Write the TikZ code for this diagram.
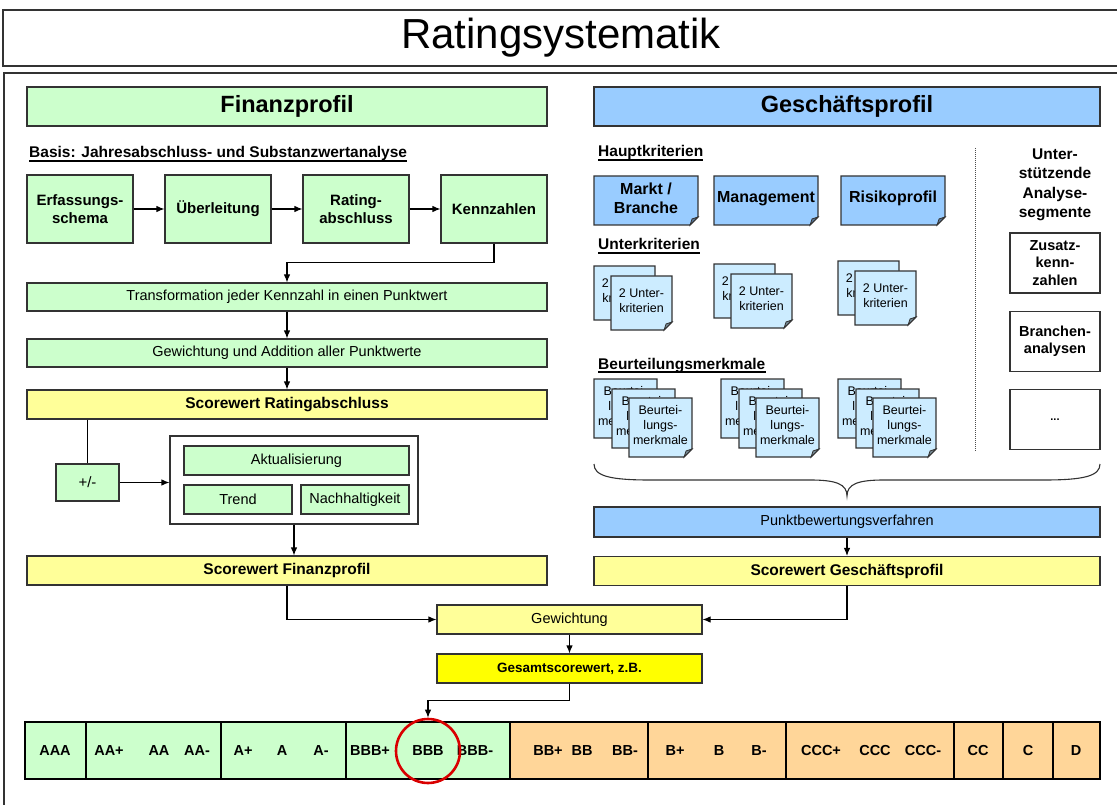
\documentclass[tikz,border=0pt]{standalone}
\usepackage{fontspec}
\setmainfont{Liberation Sans}
\usetikzlibrary{arrows.meta}
\definecolor{gruenF}{HTML}{CCFFCC}
\definecolor{gelbF}{HTML}{FFFF99}
\definecolor{gelbS}{HTML}{FFFF00}
\definecolor{blauF}{HTML}{99CCFF}
\definecolor{hblauF}{HTML}{CCECFF}
\definecolor{orangeF}{HTML}{FFD699}
\definecolor{rahmen}{HTML}{333333}

% Notizzettel mit umgeknickter Ecke: Name, x, y (oben links), Breite, Hoehe, Farbe, Schrift, Text
\newcommand{\zettel}[8]{%
  \filldraw[fill=#6,draw=rahmen,line width=1.1] (#2,#3) -- ++(#4,0) -- ++(0,#5-8) -- ++(-8,8) -- ++(8-#4,0) -- cycle;
  \filldraw[fill=#6!60!black,draw=rahmen,line width=0.8] (#2+#4-8,#3+#5) -- ++(2,-6) -- ++(6,-2) -- cycle;
  \node[align=center,font=#7,inner sep=0] (#1) at (#2+#4/2,#3+#5/2-2) {#8};
}

\begin{document}
\begin{tikzpicture}[x=1pt,y=-1pt,
    kasten/.style={draw=rahmen,line width=1.1,inner sep=1,align=center},
    fett/.style={font=\fontsize{15}{17.5}\selectfont\bfseries},
    normal/.style={font=\fontsize{14.5}{16.5}\selectfont},
    score/.style={kasten,fill=gelbF,font=\fontsize{15.5}{18}\selectfont\bfseries,minimum height=29},
    pfeil/.style={-{Latex[length=8pt,width=6.5pt]},line width=1.1},
    zelle/.style={draw=black,line width=2.6,minimum height=57,inner sep=0},
    rating/.style={font=\fontsize{14.5}{17}\selectfont\bfseries,inner sep=0},
    ueberschrift/.style={anchor=base west,inner sep=0,font=\fontsize{15.5}{18}\selectfont\bfseries,
        append after command={([yshift=-3pt]\tikzlastnode.base west) edge[line width=1.1] ([yshift=-3pt]\tikzlastnode.base east)}},
    ]
    \useasboundingbox (0,0) rectangle (1117,805);

    % Titel und Rahmen
    \node[draw=rahmen,line width=1.2,minimum width=1116,minimum height=56,font=\fontsize{42}{46}\selectfont] (titel) at (561,38) {Ratingsystematik};
    \draw[draw=rahmen,line width=1.2] (4,73) rectangle (1125,830);

    % Finanzprofil
    \node[kasten,fill=gruenF,minimum width=520,minimum height=39,font=\fontsize{23.5}{26}\selectfont\bfseries] (finanz) at (287,106.5) {Finanzprofil};
    \node[ueberschrift] (basis) at (29,158) {Basis: Jahresabschluss- und Substanzwertanalyse};

    \node[kasten,fill=gruenF,fett,minimum width=106,minimum height=68] (erfassung) at (80,209) {Erfassungs-\\schema};
    \node[kasten,fill=gruenF,fett,minimum width=106,minimum height=68] (ueberleitung) at (218,209) {Überleitung};
    \node[kasten,fill=gruenF,fett,minimum width=106,minimum height=68] (ratingab) at (356,209) {Rating-\\abschluss};
    \node[kasten,fill=gruenF,fett,minimum width=106,minimum height=68] (kennzahlen) at (494,209) {Kennzahlen};
    \draw[pfeil] (erfassung) -- (ueberleitung);
    \draw[pfeil] (ueberleitung) -- (ratingab);
    \draw[pfeil] (ratingab) -- (kennzahlen);

    \node[kasten,fill=gruenF,normal,minimum width=520,minimum height=28] (transformation) at (287,297) {Transformation jeder Kennzahl in einen Punktwert};
    \node[kasten,fill=gruenF,normal,minimum width=520,minimum height=28] (gewaddition) at (287,353) {Gewichtung und Addition aller Punktwerte};
    \node[score,minimum width=520] (sratingab) at (287,404.5) {Scorewert Ratingabschluss};
    \draw[pfeil] (kennzahlen.south) -- ++(0,19) -| (transformation.north);
    \draw[pfeil] (transformation) -- (gewaddition);
    \draw[pfeil] (gewaddition) -- (sratingab);

    \node[kasten,fill=gruenF,font=\fontsize{15}{17}\selectfont,minimum width=63,minimum height=37] (plusminus) at (87.5,482.5) {+/-};
    \node[kasten,fill=white,minimum width=248,minimum height=88] (anpassung) at (294,480) {};
    \node[kasten,fill=gruenF,normal,minimum width=225,minimum height=29] (aktual) at (296.5,460.5) {Aktualisierung};
    \node[kasten,fill=gruenF,normal,minimum width=108,minimum height=29] (trend) at (238,499.5) {Trend};
    \node[kasten,fill=gruenF,normal,minimum width=108,minimum height=29] (nachhaltig) at (355,499.5) {Nachhaltigkeit};
    \draw[line width=1.1] (plusminus.north |- sratingab.south) -- (plusminus.north);
    \draw[pfeil] (plusminus.east) -- (plusminus.east -| anpassung.west);

    \node[score,minimum width=520] (sfinanz) at (287,570.5) {Scorewert Finanzprofil};
    \draw[pfeil] (anpassung.south) -- (anpassung.south |- sfinanz.north);

    % Geschaeftsprofil
    \node[kasten,fill=blauF,minimum width=506,minimum height=39,font=\fontsize{23.5}{26}\selectfont\bfseries] (geschaeft) at (847,106.5) {Geschäftsprofil};
    \node[ueberschrift] (haupt) at (598,157) {Hauptkriterien};
    \node[ueberschrift] (unterkrit) at (598,250) {Unterkriterien};
    \node[ueberschrift] (beurteil) at (598,369) {Beurteilungsmerkmale};

    \zettel{markt}{594}{176}{104}{49}{blauF}{\fontsize{16}{19}\selectfont\bfseries}{Markt /\\Branche}
    \zettel{management}{714}{176}{104}{49}{blauF}{\fontsize{16}{19}\selectfont\bfseries}{Management}
    \zettel{risiko}{841}{176}{104}{49}{blauF}{\fontsize{16}{19}\selectfont\bfseries}{Risikoprofil}

    \foreach \x/\y [count=\i] in {594/266,714/264,838/261}{
        \zettel{uh\i}{\x}{\y}{61}{54}{hblauF}{\fontsize{12.5}{15}\selectfont}{2 Unter-\\kriterien}
        \zettel{uv\i}{\x+17}{\y+10}{61}{54}{hblauF}{\fontsize{12.5}{15}\selectfont}{2 Unter-\\kriterien}
    }
    \foreach \x [count=\i] in {594,721,838}{
        \zettel{ba\i}{\x}{379}{63}{59}{hblauF}{\fontsize{12.5}{15}\selectfont}{Beurtei-\\lungs-\\merkmale}
        \zettel{bb\i}{\x+18}{389}{63}{59}{hblauF}{\fontsize{12.5}{15}\selectfont}{Beurtei-\\lungs-\\merkmale}
        \zettel{bc\i}{\x+35}{398}{63}{59}{hblauF}{\fontsize{12.5}{15}\selectfont}{Beurtei-\\lungs-\\merkmale}
    }

    \draw[densely dotted,black!70,line width=1] (975,148) -- (975,452);
    \node[align=center,inner sep=0,font=\fontsize{15.5}{19.5}\selectfont\bfseries] (unterst) at (1055,185) {Unter-\\stützende\\Analyse-\\segmente};
    \node[kasten,fill=white,minimum width=90,minimum height=60,font=\fontsize{14.5}{17.5}\selectfont\bfseries] (zusatz) at (1055,263) {Zusatz-\\kenn-\\zahlen};
    \node[kasten,fill=white,minimum width=90,minimum height=60,font=\fontsize{14.5}{17.5}\selectfont\bfseries] (branchen) at (1055,341.5) {Branchen-\\analysen};
    \node[kasten,fill=white,minimum width=90,minimum height=60,font=\fontsize{11}{13}\selectfont\bfseries] (weitere) at (1055,419.5) {...};

    % geschweifte Klammer
    \draw[line width=1.1,rahmen] (594,464) .. controls (594,476) and (610,480) .. (650,480) -- (810,480)
        .. controls (836,480) and (847,484) .. (847,496) .. controls (847,484) and (858,480) .. (884,480)
        -- (1044,480) .. controls (1084,480) and (1100,476) .. (1100,464);

    \node[kasten,fill=blauF,normal,minimum width=506,minimum height=30] (punkt) at (847,522) {Punktbewertungsverfahren};
    \node[score,minimum width=506] (sgeschaeft) at (847,571) {Scorewert Geschäftsprofil};
    \draw[pfeil] (punkt) -- (sgeschaeft);

    % Gesamtbewertung
    \node[kasten,fill=gelbF,normal,minimum width=265,minimum height=29] (gewichtung) at (569.5,619.5) {Gewichtung};
    \node[kasten,fill=gelbS,font=\fontsize{13.5}{16}\selectfont\bfseries,minimum width=265,minimum height=29] (gesamt) at (569.5,668.5) {Gesamtscorewert, z.B.};
    \draw[pfeil] (sfinanz.south) |- (gewichtung.west);
    \draw[pfeil] (sgeschaeft.south) |- (gewichtung.east);
    \draw[pfeil] (gewichtung) -- (gesamt);

    % Ratingskala
    \foreach \a/\b/\f [count=\i] in {25/86/gruenF,86/221/gruenF,221/346/gruenF,346/510/gruenF,510/648/orangeF,648/786/orangeF,786/954/orangeF,954/1003/orangeF,1003/1053/orangeF,1053/1100/orangeF}
        \node[zelle,fill=\f,minimum width=\b-\a] (zelle\i) at ({(\a+\b)/2},750.5) {};
    \foreach \t/\x [count=\i] in {AAA/55,AA+/109,AA/159,AA-/197,A+/243,A/282,A-/321,BBB+/370,BBB/428,BBB-/475,BB+/548,BB/582,BB-/625,B+/675,B/719,B-/759,CCC+/821,CCC/875,CCC-/923,CC/978,C/1028,D/1076}
        \node[rating] (stufe\i) at (\x,750.5) {\t};
    \node[draw=red!85!black,line width=2.6,circle,minimum size=64,inner sep=0] (kreis) at (428,751) {};
    \draw[pfeil] (gesamt.south) -- ++(0,17) -| (kreis.north);
\end{tikzpicture}
\end{document}
